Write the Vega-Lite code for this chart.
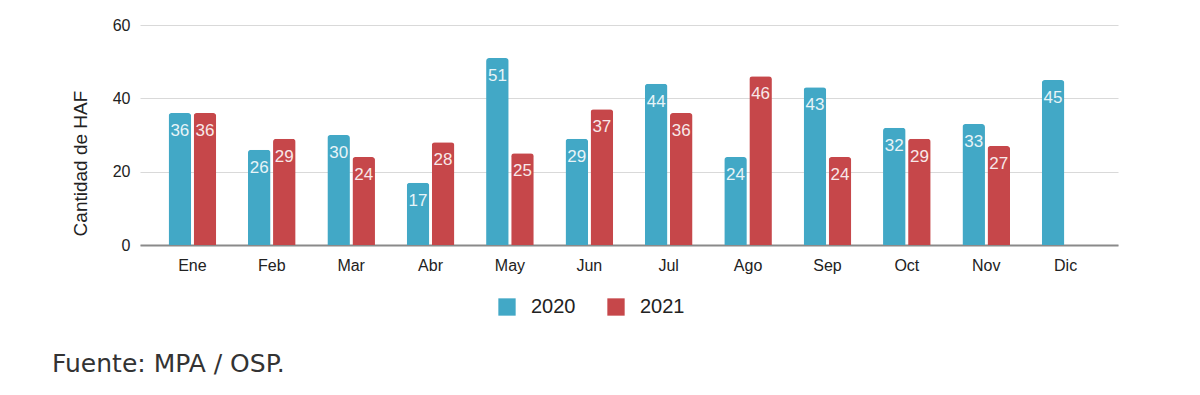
{
  "$schema": "https://vega.github.io/schema/vega-lite/v6.json",
  "autosize": {"type": "none"},
  "width": 978,
  "height": 220,
  "padding": {"left": 140, "top": 25, "right": 82, "bottom": 150},
  "background": "white",
  "config": {"view": {"stroke": null}},
  "title": {
    "text": "Fuente: MPA / OSP.",
    "orient": "bottom",
    "anchor": "start",
    "frame": "group",
    "dx": -88,
    "offset": 35,
    "font": "DejaVu Sans",
    "fontSize": 25,
    "fontWeight": "normal",
    "color": "#333333"
  },
  "data": {
    "values": [
      {"mes": "Ene", "anio": "2020", "valor": 36},
      {"mes": "Ene", "anio": "2021", "valor": 36},
      {"mes": "Feb", "anio": "2020", "valor": 26},
      {"mes": "Feb", "anio": "2021", "valor": 29},
      {"mes": "Mar", "anio": "2020", "valor": 30},
      {"mes": "Mar", "anio": "2021", "valor": 24},
      {"mes": "Abr", "anio": "2020", "valor": 17},
      {"mes": "Abr", "anio": "2021", "valor": 28},
      {"mes": "May", "anio": "2020", "valor": 51},
      {"mes": "May", "anio": "2021", "valor": 25},
      {"mes": "Jun", "anio": "2020", "valor": 29},
      {"mes": "Jun", "anio": "2021", "valor": 37},
      {"mes": "Jul", "anio": "2020", "valor": 44},
      {"mes": "Jul", "anio": "2021", "valor": 36},
      {"mes": "Ago", "anio": "2020", "valor": 24},
      {"mes": "Ago", "anio": "2021", "valor": 46},
      {"mes": "Sep", "anio": "2020", "valor": 43},
      {"mes": "Sep", "anio": "2021", "valor": 24},
      {"mes": "Oct", "anio": "2020", "valor": 32},
      {"mes": "Oct", "anio": "2021", "valor": 29},
      {"mes": "Nov", "anio": "2020", "valor": 33},
      {"mes": "Nov", "anio": "2021", "valor": 27},
      {"mes": "Dic", "anio": "2020", "valor": 45}
    ]
  },
  "encoding": {
    "x": {
      "field": "mes",
      "type": "nominal",
      "sort": ["Ene","Feb","Mar","Abr","May","Jun","Jul","Ago","Sep","Oct","Nov","Dic"],
      "scale": {"paddingInner": 0.4, "paddingOuter": 0.36},
      "axis": {
        "title": null,
        "labelAngle": 0,
        "ticks": false,
        "labelPadding": 12,
        "labelFont": "Liberation Sans",
        "labelFontSize": 16,
        "labelColor": "#222222",
        "domainColor": "#8a8a8a",
        "domainWidth": 2,
        "grid": false
      }
    },
    "xOffset": {"field": "anio", "type": "nominal", "scale": {"paddingInner": 0.1}},
    "y": {
      "field": "valor",
      "type": "quantitative",
      "scale": {"domain": [0, 60]},
      "axis": {
        "values": [0, 20, 40, 60],
        "title": "Cantidad de HAF",
        "titleFont": "Liberation Sans",
        "titleFontSize": 19,
        "titleFontWeight": "normal",
        "titleColor": "#222222",
        "titleX": -60,
        "titleY": 138,
        "titleAngle": -90,
        "titleAlign": "center",
        "titleBaseline": "middle",
        "ticks": false,
        "domain": false,
        "labelPadding": 10,
        "labelFont": "Liberation Sans",
        "labelFontSize": 16,
        "labelColor": "#222222",
        "gridColor": "#d9d9d9",
        "gridWidth": 1
      }
    }
  },
  "layer": [
    {
      "mark": {"type": "bar", "cornerRadiusTopLeft": 3, "cornerRadiusTopRight": 3},
      "encoding": {
        "color": {
          "field": "anio",
          "type": "nominal",
          "scale": {"domain": ["2020", "2021"], "range": ["#42a8c6", "#c6474a"]},
          "legend": {
            "title": null,
            "orient": "none",
            "direction": "horizontal",
            "legendX": 357,
            "legendY": 272,
            "symbolType": "square",
            "symbolSize": 300,
            "symbolOpacity": 1,
            "symbolStrokeWidth": 0,
            "labelFont": "Liberation Sans",
            "labelFontSize": 20,
            "labelColor": "#222222",
            "labelOffset": 14,
            "columnPadding": 30
          }
        }
      }
    },
    {
      "mark": {
        "type": "text",
        "baseline": "middle",
        "align": "center",
        "dy": 18,
        "font": "Liberation Sans",
        "fontSize": 17,
        "color": "#ffffff",
        "opacity": 0.88
      },
      "encoding": {"text": {"field": "valor", "type": "quantitative"}}
    }
  ]
}
